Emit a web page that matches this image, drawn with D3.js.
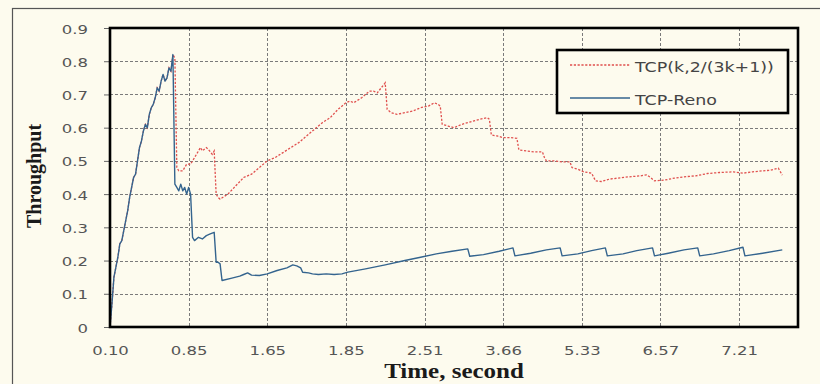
<!DOCTYPE html>
<html>
<head>
<meta charset="utf-8">
<script src="https://cdn.jsdelivr.net/npm/d3@7"></script>
<style>
  html, body { margin: 0; padding: 0; background: #fdfbee; }
  svg { display: block; }
</style>
</head>
<body>
<svg id="chart" width="820" height="384"></svg>
<script>
// Category axis: samples are indexed, a label every 40 samples
const xTickIndex  = [0, 40, 80, 120, 160, 200, 240, 280, 320];
const xTickLabels = ["0.10", "0.85", "1.65", "1.85", "2.51", "3.66", "5.33", "6.57", "7.21"];
const yTicks      = [0, 0.1, 0.2, 0.3, 0.4, 0.5, 0.6, 0.7, 0.8, 0.9];
const yTickLabels = ["0", "0.1", "0.2", "0.3", "0.4", "0.5", "0.6", "0.7", "0.8", "0.9"];

const seriesNames = ["TCP(k,2/(3k+1))", "TCP-Reno"];

// Shared slow-start ramp [sample, throughput]
const slowStart = [
  [0,0],[1,0.07],[2,0.15],[3,0.18],[4,0.21],[5,0.25],[6,0.26],[7,0.29],[8,0.32],
  [9,0.35],[10,0.39],[11,0.42],[12,0.45],[13,0.46],[14,0.50],[15,0.54],[16,0.56],
  [17,0.59],[18,0.61],[19,0.60],[20,0.64],[21,0.66],[22,0.67],[23,0.69],[24,0.72],
  [25,0.71],[26,0.74],[27,0.76],[28,0.74],[29,0.75],[30,0.78],[31,0.77],[32,0.82]
];

// TCP(k, 2/(3k+1)) after the first loss
const kTcpTail = [
  [33,0.81],[34,0.48],[35,0.47],[37,0.47],[39,0.49],[41,0.49],[43,0.51],[45,0.53],
  [46,0.54],[47,0.53],[49,0.54],[50,0.535],[52,0.52],[53,0.53],[54,0.40],[55,0.39],
  [56,0.385],[60,0.40],[64,0.425],[68,0.45],[72,0.46],[76,0.48],[80,0.50],[84,0.51],
  [88,0.525],[92,0.54],[96,0.555],[100,0.575],[104,0.595],[108,0.615],[112,0.63],
  [116,0.655],[120,0.675],[122,0.68],[124,0.675],[128,0.69],[132,0.71],[134,0.71],
  [136,0.705],[138,0.72],[140,0.735],[141,0.655],[143,0.645],[146,0.64],[150,0.645],
  [154,0.65],[158,0.66],[162,0.665],[165,0.675],[167,0.67],[168,0.665],[169,0.61],
  [172,0.605],[175,0.60],[179,0.61],[183,0.617],[188,0.625],[192,0.63],[193,0.625],
  [194,0.578],[197,0.575],[200,0.57],[204,0.57],[207,0.568],[208,0.533],[212,0.53],
  [216,0.527],[220,0.527],[221,0.51],[222,0.50],[226,0.50],[230,0.497],[234,0.497],
  [235,0.48],[238,0.475],[241,0.467],[245,0.463],[247,0.44],[250,0.438],[254,0.445],
  [258,0.448],[264,0.452],[270,0.455],[273,0.458],[275,0.45],[277,0.44],[282,0.442],
  [287,0.448],[292,0.452],[298,0.455],[304,0.462],[310,0.465],[317,0.467],[322,0.463],
  [327,0.467],[332,0.47],[336,0.472],[340,0.478],[342,0.457]
];

// TCP-Reno after the first loss
const renoTail = [
  [33,0.43],[34,0.42],[35,0.41],[36,0.43],[37,0.41],[38,0.42],[39,0.40],[40,0.42],
  [41,0.40],[42,0.27],[43,0.26],[45,0.27],[47,0.265],[49,0.275],[51,0.28],[53,0.285],
  [54,0.195],[55,0.195],[56,0.19],[57,0.14],[62,0.147],[66,0.153],[68,0.158],[70,0.163],
  [72,0.156],[76,0.155],[80,0.16],[85,0.17],[90,0.178],[93,0.187],[95,0.184],[97,0.178],
  [98,0.165],[101,0.163],[103,0.16],[106,0.158],[110,0.16],[114,0.158],[118,0.16],
  [121,0.165],[130,0.175],[140,0.187],[150,0.2],[158,0.21],[166,0.22],[174,0.228],
  [182,0.235],[183,0.213],[190,0.218],[198,0.228],[205,0.238],[206,0.214],[214,0.222],
  [222,0.232],[229,0.238],[230,0.214],[238,0.22],[245,0.23],[252,0.238],[253,0.214],
  [261,0.22],[268,0.23],[276,0.238],[277,0.214],[284,0.222],[292,0.232],[299,0.238],
  [300,0.214],[307,0.22],[315,0.23],[322,0.24],[323,0.214],[332,0.222],[342,0.232]
];

const kTcp = slowStart.concat(kTcpTail);
const reno = slowStart.concat(renoTail);

const plot = { left: 110, top: 28, right: 798, bottom: 327 };
const stretch = 1.32;   // wide tick lettering

const svg = d3.select("#chart");

const x = d3.scaleLinear().domain([0, 350]).range([plot.left, plot.right]);
const y = d3.scaleLinear().domain([0, 0.9]).range([plot.bottom, plot.top]);

// Outer chart frame
svg.append("rect")
  .attr("x", 12.5).attr("y", 8.5).attr("width", 900).attr("height", 500)
  .attr("fill", "#fdfbee").attr("stroke", "#555").attr("stroke-width", 1.2);

// Gridlines
const grid = svg.append("g").attr("stroke", "#7a7a7a").attr("stroke-width", 1)
  .attr("stroke-dasharray", "3,2");
grid.selectAll("line.h").data(yTicks.filter(v => v > 0 && v < 0.9)).join("line")
  .attr("class", "h")
  .attr("x1", plot.left).attr("x2", plot.right)
  .attr("y1", d => Math.round(y(d)) + 0.5).attr("y2", d => Math.round(y(d)) + 0.5);
grid.selectAll("line.v").data(xTickIndex.filter(i => i > 0)).join("line")
  .attr("class", "v")
  .attr("y1", plot.top).attr("y2", plot.bottom)
  .attr("x1", d => Math.round(x(d)) + 0.5).attr("x2", d => Math.round(x(d)) + 0.5);

// Y axis
const yAxis = svg.append("g")
  .attr("transform", `translate(${plot.left},0)`)
  .call(d3.axisLeft(y).tickValues(yTicks).tickFormat((d, i) => yTickLabels[i])
    .tickSize(6).tickPadding(10.7));
yAxis.select(".domain").remove();
yAxis.selectAll(".tick line").attr("stroke", "#666");
yAxis.selectAll(".tick text")
  .attr("fill", "#555").attr("font-family", "DejaVu Sans, Verdana, sans-serif")
  .attr("font-size", 12.5).attr("dy", "0.4em")
  .attr("transform", `scale(${stretch},1)`);

// X axis
const xAxis = svg.append("g")
  .attr("transform", `translate(0,${plot.bottom})`)
  .call(d3.axisBottom(x).tickValues(xTickIndex).tickFormat((d, i) => xTickLabels[i])
    .tickSize(0).tickPadding(19));
xAxis.select(".domain").remove();
xAxis.selectAll(".tick text")
  .attr("fill", "#555").attr("font-family", "DejaVu Sans, Verdana, sans-serif")
  .attr("font-size", 12.5)
  .attr("transform", `scale(${stretch},1)`);

// Series
const line = d3.line().x(d => x(d[0])).y(d => y(d[1]));
svg.append("path").datum(kTcp)
  .attr("d", line).attr("fill", "none")
  .attr("stroke", "#e0504e").attr("stroke-width", 1.3).attr("stroke-dasharray", "2.2,1.6");
svg.append("path").datum(reno)
  .attr("d", line).attr("fill", "none")
  .attr("stroke", "#34648e").attr("stroke-width", 1.4).attr("stroke-linejoin", "round");

// Plot-area border
svg.append("rect")
  .attr("x", plot.left).attr("y", plot.top)
  .attr("width", plot.right - plot.left).attr("height", plot.bottom - plot.top)
  .attr("fill", "none").attr("stroke", "#000").attr("stroke-width", 2.6);

// Legend
const legend = svg.append("g");
legend.append("rect")
  .attr("x", 557).attr("y", 50).attr("width", 231).attr("height", 63)
  .attr("fill", "#fdfbee").attr("stroke", "#000").attr("stroke-width", 2.6);
const legendItems = [
  { name: seriesNames[0], color: "#e0504e", dash: "2.2,1.6", width: 1.3, y: 65 },
  { name: seriesNames[1], color: "#34648e", dash: null, width: 1.4, y: 98 }
];
legendItems.forEach(it => {
  legend.append("line")
    .attr("x1", 570).attr("x2", 630).attr("y1", it.y).attr("y2", it.y)
    .attr("stroke", it.color).attr("stroke-width", it.width)
    .attr("stroke-dasharray", it.dash);
  legend.append("text")
    .attr("transform", `translate(635,${it.y + 7}) scale(1.29,1)`)
    .attr("font-family", "DejaVu Sans, Verdana, sans-serif").attr("font-size", 13.5)
    .attr("fill", "#444").text(it.name);
});

// Axis titles
svg.append("text")
  .attr("transform", `translate(454,378) scale(1.25,1)`)
  .attr("text-anchor", "middle")
  .attr("font-family", "Liberation Serif, Times New Roman, serif")
  .attr("font-weight", "bold").attr("font-size", 20).attr("fill", "#1a1a1a")
  .text("Time, second");
svg.append("text")
  .attr("transform", `translate(41,176) rotate(-90)`)
  .attr("text-anchor", "middle")
  .attr("font-family", "Liberation Serif, Times New Roman, serif")
  .attr("font-weight", "bold").attr("font-size", 20).attr("fill", "#1a1a1a")
  .text("Throughput");
</script>
</body>
</html>
